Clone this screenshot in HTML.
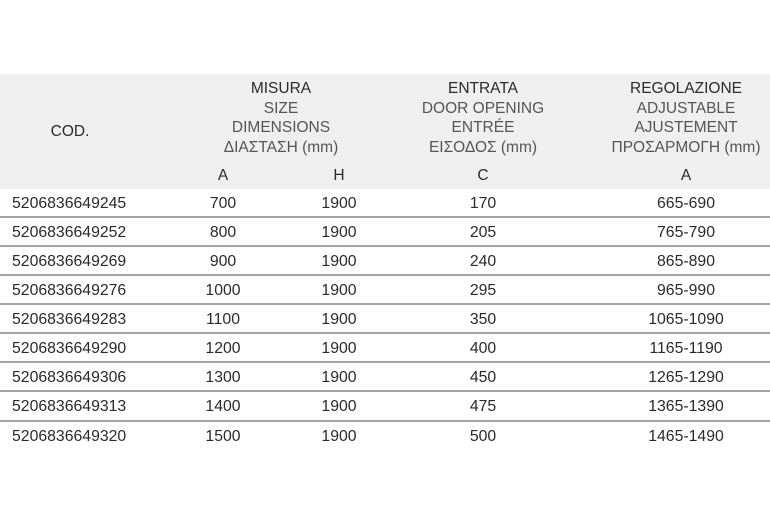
<!DOCTYPE html>
<html><head><style>
body{margin:0;width:770px;height:520px;background:#fff;font-family:"Liberation Sans","DejaVu Sans",sans-serif;color:#2a2a2a;position:relative;overflow:hidden}
.hdr{position:absolute;left:0;top:74px;width:770px;height:115px;background:#efefef}
.t{position:absolute;font-size:15.5px;white-space:nowrap;transform:translateX(-50%);line-height:19.5px;text-align:center}
.s{color:#555}
.row{position:absolute;left:0;width:770px;height:29px;font-size:15.8px}
.row span{position:absolute;top:6px;transform:translateX(-50%)}
.row .c{transform:none;left:12px}
.line{position:absolute;left:0;width:770px;height:2px;background:#a5a5a5}
</style></head><body>
<div class="hdr"></div>
<div class="t" style="left:70px;top:122px">COD.</div>
<div class="t" style="left:281px;top:79px">MISURA<br><span class="s">SIZE<br>DIMENSIONS<br>ΔΙΑΣΤΑΣΗ (mm)</span></div>
<div class="t" style="left:483px;top:79px">ENTRATA<br><span class="s">DOOR OPENING<br>ENTRÉE<br>ΕΙΣΟΔΟΣ (mm)</span></div>
<div class="t" style="left:686px;top:79px">REGOLAZIONE<br><span class="s">ADJUSTABLE<br>AJUSTEMENT<br>ΠΡΟΣΑΡΜΟΓΗ (mm)</span></div>
<div class="t" style="left:223px;top:166px">A</div>
<div class="t" style="left:339px;top:166px">H</div>
<div class="t" style="left:483px;top:166px">C</div>
<div class="t" style="left:686px;top:166px">A</div>

<div class="row" style="top:189px"><span class="c">5206836649245</span><span style="left:223px">700</span><span style="left:339px">1900</span><span style="left:483px">170</span><span style="left:686px">665-690</span></div>
<div class="line" style="top:216px"></div>
<div class="row" style="top:218px"><span class="c">5206836649252</span><span style="left:223px">800</span><span style="left:339px">1900</span><span style="left:483px">205</span><span style="left:686px">765-790</span></div>
<div class="line" style="top:245px"></div>
<div class="row" style="top:247px"><span class="c">5206836649269</span><span style="left:223px">900</span><span style="left:339px">1900</span><span style="left:483px">240</span><span style="left:686px">865-890</span></div>
<div class="line" style="top:274px"></div>
<div class="row" style="top:276px"><span class="c">5206836649276</span><span style="left:223px">1000</span><span style="left:339px">1900</span><span style="left:483px">295</span><span style="left:686px">965-990</span></div>
<div class="line" style="top:303px"></div>
<div class="row" style="top:305px"><span class="c">5206836649283</span><span style="left:223px">1100</span><span style="left:339px">1900</span><span style="left:483px">350</span><span style="left:686px">1065-1090</span></div>
<div class="line" style="top:332px"></div>
<div class="row" style="top:334px"><span class="c">5206836649290</span><span style="left:223px">1200</span><span style="left:339px">1900</span><span style="left:483px">400</span><span style="left:686px">1165-1190</span></div>
<div class="line" style="top:361px"></div>
<div class="row" style="top:363px"><span class="c">5206836649306</span><span style="left:223px">1300</span><span style="left:339px">1900</span><span style="left:483px">450</span><span style="left:686px">1265-1290</span></div>
<div class="line" style="top:390px"></div>
<div class="row" style="top:392px"><span class="c">5206836649313</span><span style="left:223px">1400</span><span style="left:339px">1900</span><span style="left:483px">475</span><span style="left:686px">1365-1390</span></div>
<div class="line" style="top:420px"></div>
<div class="row" style="top:422px"><span class="c">5206836649320</span><span style="left:223px">1500</span><span style="left:339px">1900</span><span style="left:483px">500</span><span style="left:686px">1465-1490</span></div>
</body></html>
